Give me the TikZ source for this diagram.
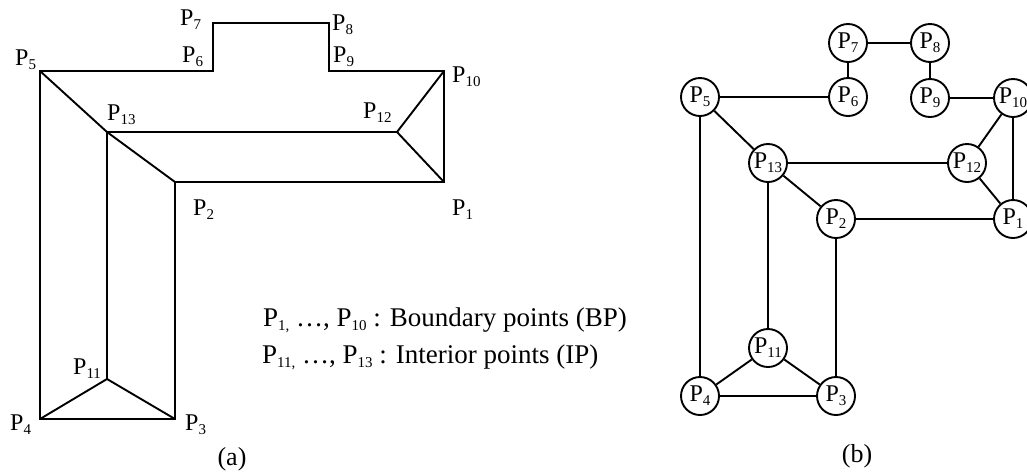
\documentclass[tikz,border=0pt]{standalone}
\usepackage{fontspec}
\setmainfont{Liberation Serif}
\newcommand{\sbs}[1]{\raisebox{-4pt}{\fontsize{15}{15}\selectfont #1}}
\newcommand{\Pn}[1]{P\sbs{#1}}
\tikzset{
  edge/.style={line width=1.9pt, line join=miter},
  lbl/.style={anchor=base west, inner sep=0pt, font=\fontsize{24}{28}\selectfont},
  legend/.style={anchor=base west, inner sep=0pt, font=\fontsize{27}{30}\selectfont},
  subcap/.style={anchor=base, inner sep=0pt, font=\fontsize{26}{30}\selectfont},
  vtx/.style={circle, draw, line width=1.9pt, minimum size=38pt, inner sep=0pt, font=\fontsize{24}{28}\selectfont},
}
\begin{document}
\begin{tikzpicture}[x=1pt,y=-1pt]
\useasboundingbox (0,0) rectangle (1027,475);
% ---------- (a) ----------
\coordinate (a5) at (40,71);
\coordinate (a6) at (213,71);
\coordinate (a7) at (213,23);
\coordinate (a8) at (329,23);
\coordinate (a9) at (329,71);
\coordinate (a10) at (444,71);
\coordinate (a1) at (444,182);
\coordinate (a2) at (175,182);
\coordinate (a3) at (175,419);
\coordinate (a4) at (40,419);
\coordinate (a13) at (107,132);
\coordinate (a12) at (397,132);
\coordinate (a11) at (107,379);
\draw[edge] (a5) -- (a6) -- (a7) -- (a8) -- (a9) -- (a10) -- (a1) -- (a2) -- (a3) -- (a4) -- cycle;
\draw[edge] (a5) -- (a13) -- (a2);
\draw[edge] (a13) -- (a12);
\draw[edge] (a10) -- (a12) -- (a1);
\draw[edge] (a13) -- (a11);
\draw[edge] (a4) -- (a11) -- (a3);
\node[lbl] (l5) at (15,65) {\Pn{5}};
\node[lbl] (l7) at (180,25) {\Pn{7}};
\node[lbl] (l8) at (332,30) {\Pn{8}};
\node[lbl] (l6) at (182,62) {\Pn{6}};
\node[lbl] (l9) at (333,62) {\Pn{9}};
\node[lbl] (l10) at (452,82) {\Pn{10}};
\node[lbl] (l13) at (107,120) {\Pn{13}};
\node[lbl] (l12) at (363,118) {\Pn{12}};
\node[lbl] (l2) at (193,215) {\Pn{2}};
\node[lbl] (l1) at (452,215) {\Pn{1}};
\node[lbl] (l11) at (73,374) {\Pn{11}};
\node[lbl] (l4) at (10,430) {\Pn{4}};
\node[lbl] (l3) at (185,430) {\Pn{3}};
\node[legend] (t1) at (263,326) {\Pn{1,} \ldots, \Pn{10} : Boundary points (BP)};
\node[legend] (t2) at (262,363) {\Pn{11,} \ldots, \Pn{13} : Interior points (IP)};
\node[subcap] (capa) at (232,465) {(a)};
% ---------- (b) ----------
\node[vtx] (b7) at (848,43) {\Pn{7}};
\node[vtx] (b8) at (930,43) {\Pn{8}};
\node[vtx] (b6) at (848,97) {\Pn{6}};
\node[vtx] (b9) at (930,98) {\Pn{9}};
\node[vtx] (b5) at (700,97) {\Pn{5}};
\node[vtx] (b10) at (1013,98) {\Pn{10}};
\node[vtx] (b13) at (768,163) {\Pn{13}};
\node[vtx] (b12) at (967,163) {\Pn{12}};
\node[vtx] (b2) at (836,219) {\Pn{2}};
\node[vtx] (b1) at (1013,219) {\Pn{1}};
\node[vtx] (b11) at (768,348) {\Pn{11}};
\node[vtx] (b4) at (700,396) {\Pn{4}};
\node[vtx] (b3) at (836,396) {\Pn{3}};
\draw[edge] (b7) -- (b8);
\draw[edge] (b7) -- (b6);
\draw[edge] (b8) -- (b9);
\draw[edge] (b5) -- (b6);
\draw[edge] (b9) -- (b10);
\draw[edge] (b5) -- (b13);
\draw[edge] (b5) -- (b4);
\draw[edge] (b13) -- (b12);
\draw[edge] (b13) -- (b2);
\draw[edge] (b13) -- (b11);
\draw[edge] (b12) -- (b10);
\draw[edge] (b12) -- (b1);
\draw[edge] (b10) -- (b1);
\draw[edge] (b2) -- (b1);
\draw[edge] (b2) -- (b3);
\draw[edge] (b11) -- (b4);
\draw[edge] (b11) -- (b3);
\draw[edge] (b4) -- (b3);
\node[subcap] (capb) at (857,462) {(b)};
\end{tikzpicture}
\end{document}
